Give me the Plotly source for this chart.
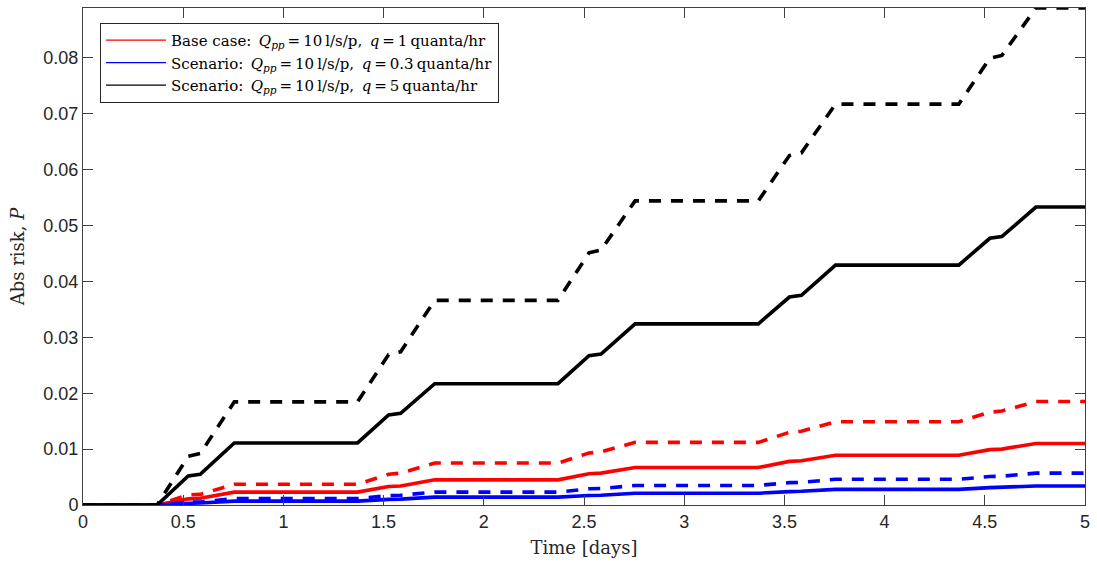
import plotly.graph_objects as go

# Times (days) of the characteristic points within each daily cycle:
# exposure begins, first-session end, second-session start, end of exposure
cycle_times = [0.37, 0.525, 0.585, 0.755]
n_days = 5

# End-of-day cumulative absolute risk (day 0 .. day 5)
black_solid_plateau = [0.0, 0.0111, 0.0217, 0.0324, 0.0429, 0.0533]
black_dash_plateau = [0.0, 0.01845, 0.0366, 0.0544, 0.0717, 0.0889]
red_solid_plateau = [0.0, 0.0023, 0.0045, 0.0067, 0.0089, 0.0110]
red_dash_plateau = [0.0, 0.0037, 0.0075, 0.0112, 0.0149, 0.0185]
blue_solid_plateau = [0.0, 0.0007, 0.0014, 0.0021, 0.0028, 0.0034]
blue_dash_plateau = [0.0, 0.00115, 0.0023, 0.0035, 0.0046, 0.0057]

# Risk at the midday break (start and end of the break) for days 1..5
black_solid_break = [(0.0052, 0.0055), (0.0161, 0.0164), (0.0267, 0.0270), (0.0372, 0.0375), (0.0477, 0.0480)]
black_dash_break = [(0.0087, 0.0092), (0.0269, 0.0274), (0.0451, 0.0456), (0.0625, 0.0630), (0.0799, 0.0804)]
red_solid_break = [(0.0011, 0.0012), (0.0033, 0.0034), (0.0056, 0.0057), (0.0078, 0.0079), (0.0099, 0.0100)]
red_dash_break = [(0.0018, 0.0019), (0.0055, 0.0057), (0.0093, 0.0095), (0.0130, 0.0132), (0.0166, 0.0168)]
blue_solid_break = [(0.0003, 0.00035), (0.0010, 0.00105), (0.0017, 0.00175), (0.0024, 0.00245), (0.0031, 0.00315)]
blue_dash_break = [(0.0005, 0.00055), (0.0017, 0.00175), (0.0029, 0.00295), (0.0040, 0.00405), (0.0051, 0.00515)]

x_ticks = [0, 0.5, 1, 1.5, 2, 2.5, 3, 3.5, 4, 4.5, 5]
x_ticklabels = ["0", "0.5", "1", "1.5", "2", "2.5", "3", "3.5", "4", "4.5", "5"]
y_ticks = [0, 0.01, 0.02, 0.03, 0.04, 0.05, 0.06, 0.07, 0.08]
y_ticklabels = ["0", "0.01", "0.02", "0.03", "0.04", "0.05", "0.06", "0.07", "0.08"]

legend_labels = [
    "Base case:\u2002<i>Q<sub>pp</sub></i>\u2009=\u200910\u2009l/s/p,\u2002<i>q</i>\u2009=\u20091\u2009quanta/hr",
    "Scenario:\u2002<i>Q<sub>pp</sub></i>\u2009=\u200910\u2009l/s/p,\u2002<i>q</i>\u2009=\u20090.3\u2009quanta/hr",
    "Scenario:\u2002<i>Q<sub>pp</sub></i>\u2009=\u200910\u2009l/s/p,\u2002<i>q</i>\u2009=\u20095\u2009quanta/hr",
]


def build_curve(plateau, breaks):
    xs, ys = [0.0], [plateau[0]]
    for d in range(n_days):
        t0, t1, t2, t3 = cycle_times
        xs += [d + t0, d + t1, d + t2, d + t3]
        ys += [plateau[d], breaks[d][0], breaks[d][1], plateau[d + 1]]
    xs.append(float(n_days))
    ys.append(plateau[n_days])
    return xs, ys


RED, BLUE, BLACK = "#ff0000", "#0000ff", "#000000"
LW = 3.6
DASH = "12px,10px"

series = [
    (red_solid_plateau, red_solid_break, RED, "solid"),
    (red_dash_plateau, red_dash_break, RED, DASH),
    (blue_solid_plateau, blue_solid_break, BLUE, "solid"),
    (blue_dash_plateau, blue_dash_break, BLUE, DASH),
    (black_solid_plateau, black_solid_break, BLACK, "solid"),
    (black_dash_plateau, black_dash_break, BLACK, DASH),
]

fig = go.Figure()
for plateau, breaks, color, dash in series:
    xs, ys = build_curve(plateau, breaks)
    fig.add_trace(go.Scatter(
        x=xs, y=ys, mode="lines", showlegend=False, hoverinfo="skip",
        line=dict(color=color, width=LW, dash=dash),
    ))

# thin legend handles
for label, color in zip(legend_labels, [RED, BLUE, BLACK]):
    fig.add_trace(go.Scatter(
        x=[None], y=[None], mode="lines", name=label,
        line=dict(color=color, width=1.2),
    ))

axis_color = "#404040"
tick_font = dict(family="Liberation Sans, Arial, sans-serif", size=18, color="#262626")
serif = "DejaVu Serif, serif"

fig.update_layout(
    width=1097, height=567,
    margin=dict(l=83, r=9, t=7, b=62),
    paper_bgcolor="white", plot_bgcolor="white",
    showlegend=True,
    legend=dict(
        x=0.017, y=0.97, xanchor="left", yanchor="top",
        bgcolor="white", bordercolor="#262626", borderwidth=1,
        font=dict(family=serif, size=15, color="#000000"),
        itemwidth=60, tracegroupgap=0,
    ),
    xaxis=dict(
        range=[0, 5], tickvals=x_ticks, ticktext=x_ticklabels,
        showline=True, linecolor=axis_color, linewidth=1, mirror="ticks",
        ticks="inside", ticklen=10, tickcolor=axis_color, tickwidth=1,
        showgrid=False, zeroline=False, tickfont=tick_font,
        title=dict(text="Time [days]", font=dict(family=serif, size=18, color="#262626"), standoff=10),
    ),
    yaxis=dict(
        range=[0, 0.0889], tickvals=y_ticks, ticktext=y_ticklabels,
        showline=True, linecolor=axis_color, linewidth=1, mirror="ticks",
        ticks="inside", ticklen=10, tickcolor=axis_color, tickwidth=1,
        showgrid=False, zeroline=False, tickfont=tick_font,
        title=dict(text="Abs risk, <i>P</i>", font=dict(family=serif, size=18, color="#262626"), standoff=14),
    ),
)

fig.write_html("out.html")
